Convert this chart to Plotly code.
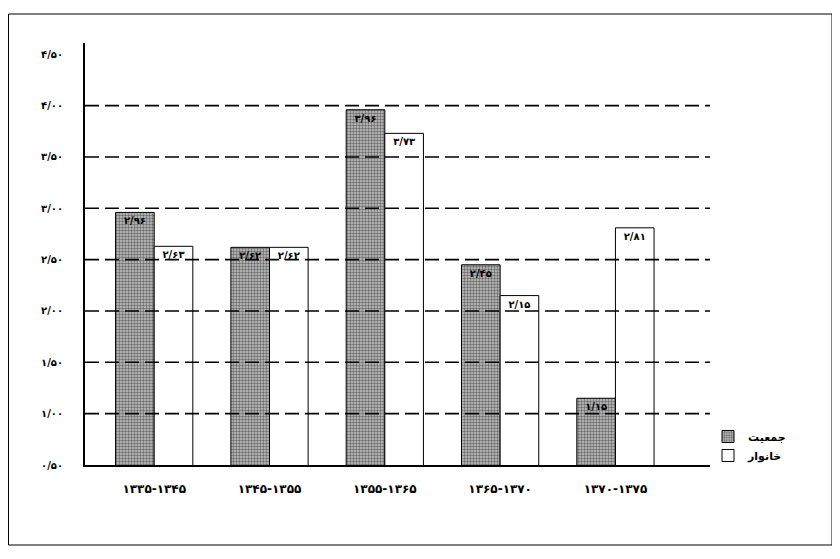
import plotly.graph_objects as go

# ---- data ----
periods = ["۱۳۳۵-۱۳۴۵", "۱۳۴۵-۱۳۵۵", "۱۳۵۵-۱۳۶۵", "۱۳۶۵-۱۳۷۰", "۱۳۷۰-۱۳۷۵"]
population = [2.96, 2.62, 3.96, 2.45, 1.15]   # جمعیت
households = [2.63, 2.62, 3.73, 2.15, 2.81]   # خانوار
y_tick_vals = [0.5, 1.0, 1.5, 2.0, 2.5, 3.0, 3.5, 4.0, 4.5]
y_tick_text = ["۰/۵۰", "۱/۰۰", "۱/۵۰", "۲/۰۰", "۲/۵۰", "۳/۰۰", "۳/۵۰", "۴/۰۰", "۴/۵۰"]
grid_vals = [1.0, 1.5, 2.0, 2.5, 3.0, 3.5, 4.0]

FA = str.maketrans("0123456789", "۰۱۲۳۴۵۶۷۸۹")
def fa(v):
    return "<b>" + f"{v:.2f}".replace(".", "/").translate(FA) + "</b>"

FONT = "DejaVu Sans"
W, H = 840, 559
OFF = 8  # page body margin
L, R, T, B = 85 - OFF, 710 - OFF, 43 - OFF, 465 - OFF  # plot area in layout px

fig = go.Figure()
fig.add_trace(go.Bar(
    x=periods, y=population, name="جمعیت",
    text=[fa(v) for v in population], textposition="inside",
    insidetextanchor="end", constraintext="none", cliponaxis=False,
    textfont=dict(family=FONT, size=10, color="black"),
    marker=dict(color="#a8a8a8", line=dict(color="black", width=1),
                pattern=dict(shape=".", fgcolor="#111111", bgcolor="#c4c4c4",
                             size=3, solidity=0.5)),
))
fig.add_trace(go.Bar(
    x=periods, y=households, name="خانوار",
    text=[fa(v) for v in households], textposition="inside",
    insidetextanchor="end", constraintext="none", cliponaxis=False,
    textfont=dict(family=FONT, size=10, color="black"),
    marker=dict(color="white", line=dict(color="black", width=1)),
))

shapes = []
for g in grid_vals:
    shapes.append(dict(type="line", xref="paper", yref="y", x0=0, x1=1, y0=g, y1=g,
                       line=dict(color="black", width=1.6, dash="14px,6px"), layer="above"))
pw, ph = R - L, B - T
def px(x): return (x - OFF - L) / pw
def py(y): return (B - (y - OFF)) / ph
# outer frame
shapes.append(dict(type="rect", xref="paper", yref="paper",
                   x0=px(8.5), x1=px(832), y0=py(545), y1=py(14),
                   line=dict(color="black", width=1)))

fig.update_layout(
    width=W, height=H,
    margin=dict(l=L, r=W - R, t=T, b=H - B, autoexpand=False),
    paper_bgcolor="white", plot_bgcolor="white",
    barmode="group", bargap=0.33, bargroupgap=0.0,
    font=dict(family=FONT, size=11, color="black"),
    shapes=shapes,
    uniformtext=dict(minsize=7, mode="show"),
    showlegend=True,
    legend=dict(x=px(708), y=py(422), xanchor="left", yanchor="top",
                font=dict(family=FONT, size=11, color="black", weight="bold"),
                bgcolor="rgba(0,0,0,0)", tracegroupgap=0, itemwidth=30),
    xaxis=dict(range=[-0.6, 4.82], showgrid=False, showline=True,
               linecolor="black", linewidth=2, ticks="", ticklabelstandoff=12,
               tickfont=dict(family=FONT, size=12, color="black", weight="bold")),
    yaxis=dict(range=[0.5, 4.61], tickvals=y_tick_vals, ticktext=y_tick_text,
               showgrid=False, showline=True, linecolor="black", linewidth=2,
               ticks="", ticklabelstandoff=18, zeroline=False,
               tickfont=dict(family=FONT, size=10, color="black", weight="bold")),
)

fig.write_html("out.html")
